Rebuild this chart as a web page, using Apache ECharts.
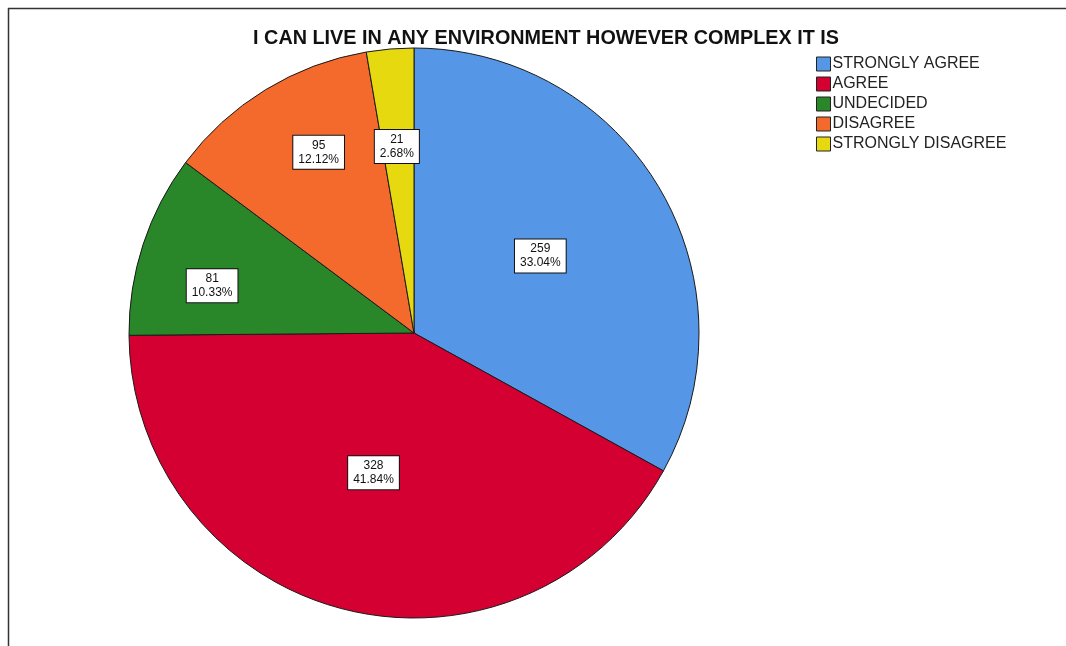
<!DOCTYPE html>
<html>
<head>
<meta charset="utf-8">
<script src="https://cdn.jsdelivr.net/npm/echarts@6/dist/echarts.min.js"></script>
<style>
html,body{margin:0;padding:0;background:#fff;}
#chart{width:1066px;height:646px;}
</style>
</head>
<body>
<div id="chart"></div>
<script>
const titleText = 'I CAN LIVE IN ANY ENVIRONMENT HOWEVER COMPLEX IT IS';
const categories = ['STRONGLY AGREE', 'AGREE', 'UNDECIDED', 'DISAGREE', 'STRONGLY DISAGREE'];
const counts = [259, 328, 81, 95, 21];
const colors = ['#5596E6', '#D50032', '#29872A', '#F36A2C', '#E6D910'];

const labelPush = [1.04, 1.02, 1.46, 1.44, 1.32];
const labelNudge = [[-4, 0], [-4, -4], [0, 19], [14, -2], [-1, 5]];
const CX = 414, CY = 333;
const total = counts.reduce((a, b) => a + b, 0);

const chart = echarts.init(document.getElementById('chart'));
chart.setOption({
  animation: false,
  backgroundColor: '#fff',
  title: {
    text: titleText,
    left: 541,
    textAlign: 'center',
    top: 24,
    textStyle: {fontFamily: 'Liberation Sans, Arial', fontWeight: 'bold', fontSize: 19.8, color: '#111'}
  },
  legend: {
    orient: 'vertical',
    left: 811,
    top: 51,
    itemWidth: 14,
    itemHeight: 14,
    itemGap: 4,
    icon: 'rect',
    data: categories,
    itemStyle: {borderColor: '#222', borderWidth: 1},
    textStyle: {fontFamily: 'Liberation Sans, Arial', fontSize: 16, color: '#222', padding: [0, 0, 0, -3]}
  },
  graphic: [
    {type: 'line', shape: {x1: 8.5, y1: 8, x2: 8.5, y2: 646}, style: {stroke: '#333', lineWidth: 1.5}},
    {type: 'line', shape: {x1: 8, y1: 8.5, x2: 1066, y2: 8.5}, style: {stroke: '#333', lineWidth: 1.5}}
  ],
  series: [{
    type: 'pie',
    center: [CX, CY],
    radius: 285,
    startAngle: 90,
    clockwise: true,
    itemStyle: {borderColor: '#1a1a1a', borderWidth: 1},
    emphasis: {disabled: true},
    label: {
      show: true,
      position: 'inside',
      formatter: function (p) { return p.value + '\n' + (p.value / total * 100).toFixed(2) + '%'; },
      fontFamily: 'Liberation Sans, Arial',
      fontSize: 12,
      lineHeight: 14,
      color: '#111',
      backgroundColor: '#fff',
      borderColor: '#111',
      borderWidth: 1,
      padding: [3, 5, 2, 5],
      align: 'center'
    },
    labelLayout: function (p) {
      const r = p.labelRect;
      const lx = r.x + r.width / 2, ly = r.y + r.height / 2;
      const k = labelPush[p.dataIndex] - 1;
      const n = labelNudge[p.dataIndex];
      return {dx: (lx - CX) * k + n[0], dy: (ly - CY) * k + n[1]};
    },
    data: categories.map((c, i) => ({name: c, value: counts[i], itemStyle: {color: colors[i]}}))
  }]
});
</script>
</body>
</html>
